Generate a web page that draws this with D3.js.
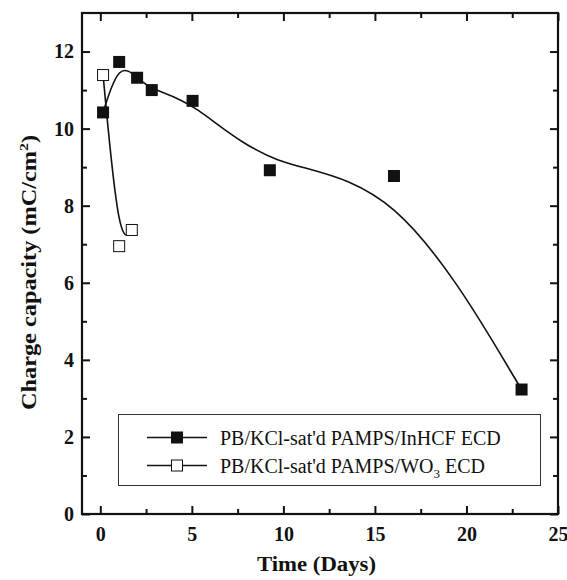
<!DOCTYPE html>
<html>
<head>
<meta charset="utf-8">
<script src="https://cdn.jsdelivr.net/npm/d3@7"></script>
<style>
  body { margin: 0; background: #fff; }
  svg text { font-family: "Liberation Serif", "Times New Roman", serif; }
</style>
</head>
<body>
<div id="myChart"></div>
<script>
// data
const inhcfDays = [0.15, 1.03, 2.01, 2.81, 5.04, 9.26, 16.04, 23.01]
const inhcfCap = [10.42, 11.73, 11.32, 11.0, 10.72, 8.92, 8.77, 3.23]
const wo3Days = [0.15, 1.03, 1.72]
const wo3Cap = [11.39, 6.95, 7.37]
const xTicks = [0, 5, 10, 15, 20, 25]
const xMinor = [2.5, 7.5, 12.5, 17.5, 22.5]
const yTicks = [0, 2, 4, 6, 8, 10, 12]
const yMinor = [1, 3, 5, 7, 9, 11]
const seriesNames = ["PB/KCl-sat'd PAMPS/InHCF ECD", "PB/KCl-sat'd PAMPS/WO3 ECD"]

let width = 567
let height = 580
const margin = { top: 13, right: 9, bottom: 66, left: 82 }
const iw = width - margin.left - margin.right
const ih = height - margin.top - margin.bottom

let svg = d3.select("#myChart")
  .append("svg")
  .attr("width", width)
  .attr("height", height)

let g = svg.append("g")
  .attr("transform", `translate(${margin.left},${margin.top})`)

let x = d3.scaleLinear().domain([-1, 25]).range([0, iw])
let y = d3.scaleLinear().domain([0, 13]).range([ih, 0])

// frame
g.append("rect")
  .attr("width", iw)
  .attr("height", ih)
  .attr("fill", "none")
  .attr("stroke", "#111")
  .attr("stroke-width", 2.2)

function styleAxis(sel) {
  sel.select(".domain").remove()
  sel.selectAll("line").attr("stroke", "#111").attr("stroke-width", 2)
  sel.selectAll("text")
    .attr("fill", "#111")
    .style("font-size", "20px")
    .style("font-weight", "bold")
}

// bottom
g.append("g").attr("transform", `translate(0,${ih})`)
  .call(d3.axisBottom(x).tickValues(xTicks).tickSize(-8).tickPadding(13).tickFormat(d3.format("d")))
  .call(styleAxis)
g.append("g").attr("transform", `translate(0,${ih})`)
  .call(d3.axisBottom(x).tickValues(xMinor).tickSize(-5).tickFormat(""))
  .call(styleAxis)
// top
g.append("g")
  .call(d3.axisTop(x).tickValues(xTicks).tickSize(-8).tickFormat(""))
  .call(styleAxis)
g.append("g")
  .call(d3.axisTop(x).tickValues(xMinor).tickSize(-5).tickFormat(""))
  .call(styleAxis)
// left
g.append("g")
  .call(d3.axisLeft(y).tickValues(yTicks).tickSize(-8).tickPadding(8).tickFormat(d3.format("d")))
  .call(styleAxis)
g.append("g")
  .call(d3.axisLeft(y).tickValues(yMinor).tickSize(-5).tickFormat(""))
  .call(styleAxis)
// right
g.append("g").attr("transform", `translate(${iw},0)`)
  .call(d3.axisRight(y).tickValues(yTicks).tickSize(-8).tickFormat(""))
  .call(styleAxis)
g.append("g").attr("transform", `translate(${iw},0)`)
  .call(d3.axisRight(y).tickValues(yMinor).tickSize(-5).tickFormat(""))
  .call(styleAxis)

// axis titles
svg.append("text")
  .attr("x", 257)
  .attr("y", 571)
  .attr("textLength", 119)
  .attr("lengthAdjust", "spacingAndGlyphs")
  .style("font-size", "20px")
  .style("font-weight", "bold")
  .attr("fill", "#111")
  .text("Time (Days)")

let yt = svg.append("text")
  .attr("transform", `translate(36,410) rotate(-90)`)
  .attr("textLength", 275)
  .attr("lengthAdjust", "spacingAndGlyphs")
  .style("font-size", "20px")
  .style("font-weight", "bold")
  .attr("fill", "#111")
yt.append("tspan").text("Charge capacity (mC/cm")
yt.append("tspan").attr("dy", -8).style("font-size", "13px").text("2")
yt.append("tspan").attr("dy", 8).text(")")

// fitted curves
let line = d3.line()
  .x(d => x(d[0]))
  .y(d => y(d[1]))
  .curve(d3.curveBasis)

let inhcf = inhcfDays.map((d, i) => [d, inhcfCap[i]])
let wo3 = wo3Days.map((d, i) => [d, wo3Cap[i]])

g.append("path")
  .datum(inhcf)
  .attr("d", line)
  .attr("fill", "none")
  .attr("stroke", "#111")
  .attr("stroke-width", 1.6)

g.append("path")
  .datum(wo3)
  .attr("d", line)
  .attr("fill", "none")
  .attr("stroke", "#111")
  .attr("stroke-width", 1.6)

// markers
const s = 12
g.selectAll(".filled")
  .data(inhcf)
  .enter().append("rect")
  .attr("class", "filled")
  .attr("x", d => x(d[0]) - s / 2)
  .attr("y", d => y(d[1]) - s / 2)
  .attr("width", s)
  .attr("height", s)
  .attr("fill", "#111")

g.selectAll(".open")
  .data(wo3)
  .enter().append("rect")
  .attr("class", "open")
  .attr("x", d => x(d[0]) - (s - 1) / 2)
  .attr("y", d => y(d[1]) - (s - 1) / 2)
  .attr("width", s - 1)
  .attr("height", s - 1)
  .attr("fill", "#fff")
  .attr("stroke", "#111")
  .attr("stroke-width", 1)

// legend
let legend = svg.append("g")
legend.append("rect")
  .attr("x", 118.5)
  .attr("y", 414.5)
  .attr("width", 422)
  .attr("height", 71)
  .attr("fill", "#fff")
  .attr("stroke", "#333")
  .attr("stroke-width", 1)

const rowY = [437.5, 465.5]
seriesNames.forEach((name, i) => {
  let row = legend.append("g").attr("transform", `translate(0,${rowY[i]})`)
  row.append("line")
    .attr("x1", 147).attr("x2", 207)
    .attr("stroke", "#111").attr("stroke-width", 1.6)
  row.append("rect")
    .attr("x", 177 - s / 2 + (i ? 0.5 : 0))
    .attr("y", -s / 2 + (i ? 0.5 : 0))
    .attr("width", i ? s - 1 : s)
    .attr("height", i ? s - 1 : s)
    .attr("fill", i ? "#fff" : "#111")
    .attr("stroke", i ? "#111" : "none")
  let t = row.append("text")
    .attr("x", 220)
    .attr("dy", "0.35em")
    .style("font-size", "20px")
    .attr("fill", "#111")
  if (name.includes("WO3")) {
    t.append("tspan").text("PB/KCl-sat'd PAMPS/WO")
    t.append("tspan").attr("dy", 5).style("font-size", "13px").text("3")
    t.append("tspan").attr("dy", -5).text(" ECD")
  } else {
    t.text(name)
  }
})
</script>
</body>
</html>
